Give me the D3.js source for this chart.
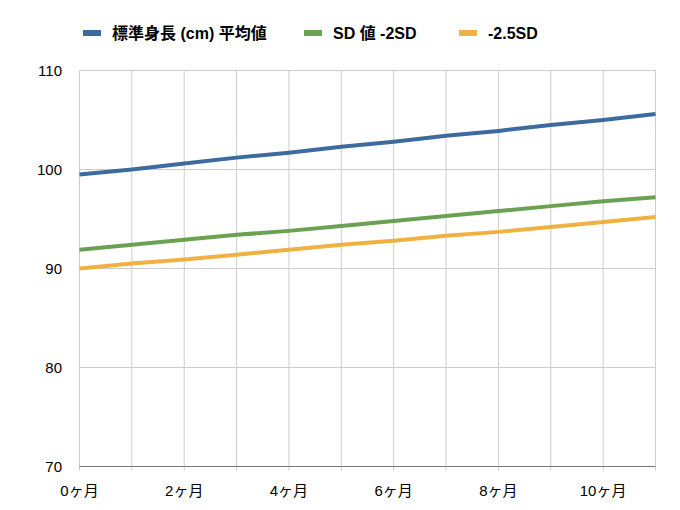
<!DOCTYPE html>
<html><head><meta charset="utf-8">
<script src="https://cdn.jsdelivr.net/npm/d3@7"></script>
<style>
body{margin:0;background:#fff;}
text{font-family:"Liberation Sans","Noto Sans CJK JP",Arial,sans-serif;}
</style></head>
<body><svg id="c" width="680" height="510"></svg>
<script>
const months = [0,1,2,3,4,5,6,7,8,9,10,11];
const monthLabels = ["0ヶ月","","2ヶ月","","4ヶ月","","6ヶ月","","8ヶ月","","10ヶ月",""];
const seriesNames = ["標準身長 (cm) 平均値","SD 値 -2SD","-2.5SD"];
const meanVals = [99.5,100.0,100.6,101.2,101.7,102.3,102.8,103.4,103.9,104.5,105.0,105.6];
const sd2Vals  = [91.9,92.4,92.9,93.4,93.8,94.3,94.8,95.3,95.8,96.3,96.8,97.2];
const sd25Vals = [90.0,90.5,90.9,91.4,91.9,92.4,92.8,93.3,93.7,94.2,94.7,95.2];
const yTicks = [70,80,90,100,110];
const colors = ["#3d6b9e","#6ba153","#f0b143"];

const svg = d3.select("#c");
const L=79.5, R=655.5, T=70.5, B=466.5;
const x = d3.scaleLinear().domain([0,11]).range([L,R]);
const y = d3.scaleLinear().domain([70,110]).range([B,T]);

// grid
svg.append("g").selectAll("line").data(months).join("line")
  .attr("x1",d=>x(d)).attr("x2",d=>x(d)).attr("y1",T).attr("y2",B+4)
  .attr("stroke","#cccccc").attr("stroke-width",1);
svg.append("g").selectAll("line").data(yTicks.filter(d=>d>70)).join("line")
  .attr("x1",L).attr("x2",R).attr("y1",d=>y(d)).attr("y2",d=>y(d))
  .attr("stroke","#cccccc").attr("stroke-width",1);
svg.append("line").attr("x1",L).attr("x2",R).attr("y1",B).attr("y2",B)
  .attr("stroke","#777").attr("stroke-width",1);

// y labels
svg.append("g").selectAll("text").data(yTicks).join("text")
  .attr("x",62).attr("y",d=>y(d)).attr("dy","0.35em").attr("text-anchor","end")
  .attr("font-size",15).attr("fill","#000").text(d=>d);
// x labels
svg.append("g").selectAll("text").data(months.filter((d,i)=>monthLabels[i])).join("text")
  .attr("x",d=>x(d)).attr("y",491).attr("dy","0.35em").attr("text-anchor","middle")
  .attr("font-size",15).attr("fill","#000").text(d=>monthLabels[d]);

// lines
const line = d3.line().x((d,i)=>x(months[i])).y(d=>y(d));
[meanVals,sd2Vals,sd25Vals].forEach((vals,k)=>{
  svg.append("path").datum(vals).attr("d",line).attr("fill","none")
    .attr("stroke",colors[k]).attr("stroke-width",4).attr("stroke-linejoin","round");
});

// legend
const legX=[83,304,459];
seriesNames.forEach((n,k)=>{
  svg.append("rect").attr("x",legX[k]).attr("y",30).attr("width",18).attr("height",6).attr("fill",colors[k]);
  svg.append("text").attr("x",legX[k]+29).attr("y",33).attr("dy","0.35em")
    .attr("font-size",16).attr("font-weight","bold").attr("fill","#000").text(n);
});
</script></body></html>
